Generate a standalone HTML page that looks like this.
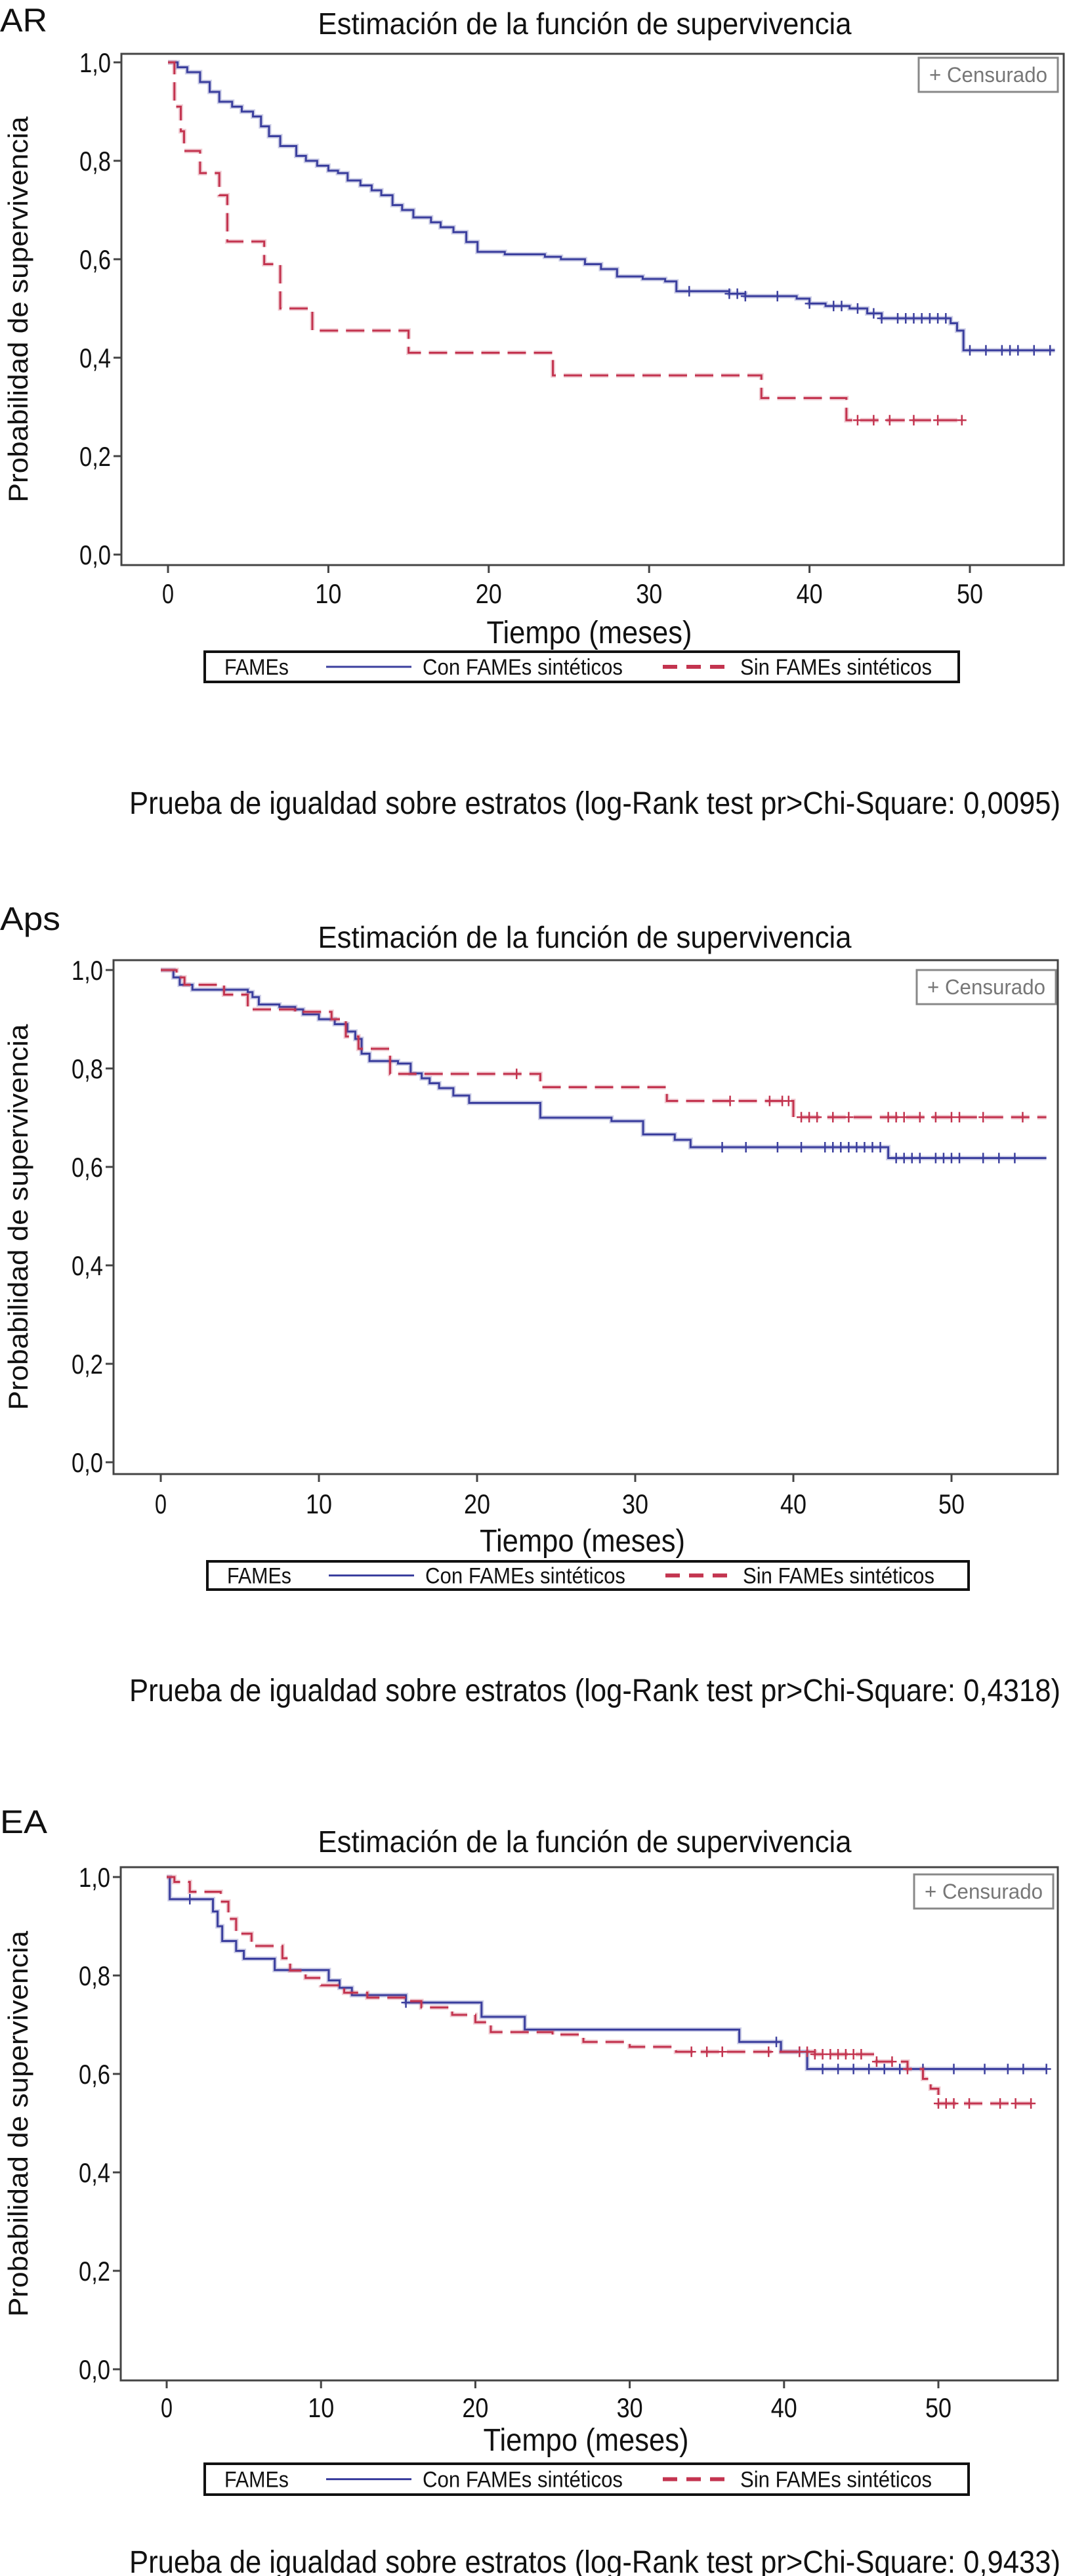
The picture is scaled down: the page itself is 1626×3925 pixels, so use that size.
<!DOCTYPE html>
<html><head><meta charset="utf-8">
<style>
html,body{margin:0;padding:0;background:#fff;}
svg{display:block;font-family:"Liberation Sans",sans-serif;}
</style></head>
<body>
<svg id="fig" width="1626" height="3925" viewBox="0 0 1626 3925" xmlns="http://www.w3.org/2000/svg"></svg>
<script>
// ---------- Chart AR ----------
const arBlueT = [0,0.6,1.2,2,2.6,3.2,4,4.6,5.3,5.8,6.3,7,8,8.6,9.3,10,10.6,11.2,12,12.7,13.3,14,14.6,15.3,16.4,17,17.8,18.6,19.3,21,23.5,24.5,26,27,28,29.6,31,31.7,35,36,39.2,40,41,42.5,43.6,44.5,48.8,49.2,49.6,55.3];
const arBlueS = [1,0.99,0.98,0.96,0.94,0.92,0.91,0.90,0.89,0.87,0.85,0.83,0.81,0.80,0.79,0.78,0.775,0.76,0.75,0.74,0.73,0.71,0.70,0.685,0.675,0.665,0.655,0.635,0.615,0.61,0.605,0.60,0.59,0.58,0.565,0.56,0.555,0.535,0.53,0.525,0.52,0.51,0.505,0.50,0.49,0.48,0.47,0.455,0.415,0.415];
const arBlueC = [32.5,35,35.5,36,38,40,41.5,42,43,44,44.5,45.5,46,46.5,47,47.5,48,48.5,50,51,52,52.5,53,54,55];
const arRedT = [0,0.4,0.8,1,2,3.2,3.7,6,7,9,15,24,37,42.3,49.5];
const arRedS = [1,0.91,0.86,0.82,0.775,0.73,0.636,0.59,0.5,0.455,0.41,0.364,0.318,0.273,0.273];
const arRedC = [43,44,45,46.5,48,49.5];
// ---------- Chart Aps ----------
const apsBlueT = [0,0.8,1.2,2,5.5,5.8,6.2,7.5,8.5,9,10,11,11.8,12.3,12.7,13.2,15,15.8,16.5,17,17.6,18.5,19.5,24,28.5,30.5,32.5,33.5,46,56];
const apsBlueS = [1,0.985,0.97,0.96,0.955,0.945,0.93,0.925,0.92,0.91,0.90,0.89,0.875,0.86,0.83,0.815,0.81,0.79,0.78,0.77,0.76,0.745,0.73,0.70,0.693,0.666,0.655,0.64,0.618,0.618];
const apsBlueC = [35.5,37,39,40.5,42,42.5,43,43.5,44,44.5,45,45.5,46.5,47,47.5,48,49,49.5,50,50.5,52,53,54];
const apsRedT = [0,1,1.5,4,5.5,8.5,10.8,11.7,12.5,14.5,24,32,40,56];
const apsRedS = [1,0.985,0.97,0.95,0.92,0.915,0.90,0.865,0.84,0.789,0.762,0.734,0.701,0.701];
const apsRedC = [22.5,36,38.5,39.3,39.7,40.5,41,41.5,42.5,43.5,46,46.5,47,48,49,50,50.5,52,54.5];
// ---------- Chart EA ----------
const eaBlueT = [0,0.2,3,3.3,3.6,4.5,5,7,10.5,11.2,12,15.5,20.4,23.2,37.1,39.8,41.5,57];
const eaBlueS = [1,0.955,0.93,0.90,0.87,0.85,0.834,0.811,0.79,0.775,0.76,0.745,0.716,0.69,0.665,0.645,0.61,0.61];
const eaBlueC = [1.5,15.5,39.5,41,42.5,43.5,44.5,45.5,46.5,47.5,49,51,53,54.5,55.5,57];
const eaRedT = [0,0.5,1.5,3.5,4,4.5,5.5,7.5,8,9,10,11.5,13,15.5,16.5,18.5,20,21,25,27,30,33,42,46,48,49,49.5,50,56];
const eaRedS = [1,0.99,0.97,0.95,0.915,0.885,0.86,0.835,0.81,0.795,0.78,0.765,0.755,0.748,0.735,0.72,0.705,0.685,0.68,0.665,0.655,0.645,0.64,0.625,0.61,0.59,0.57,0.54,0.54];
const eaRedC = [34,35,36,39,41,41.5,42,42.5,43,43.5,44,44.5,45,46,47,48,50,50.5,51,52,54,55,56];
const yTicks = [0,0.2,0.4,0.6,0.8,1.0];
const yTickLabels = ["0,0","0,2","0,4","0,6","0,8","1,0"];
const xTicks = [0,10,20,30,40,50];
const xTickLabels = ["0","10","20","30","40","50"];

const NS="http://www.w3.org/2000/svg";
const svg=document.getElementById('fig');
function mk(tag,attrs,parent){const e=document.createElementNS(NS,tag);for(const k in attrs)e.setAttribute(k,attrs[k]);(parent||svg).appendChild(e);return e;}
function txt(s,attrs,parent){const e=mk('text',attrs,parent);e.textContent=s;return e;}

function stepPath(T,S,sx,sy){
  let d='M'+sx(T[0])+' '+sy(S[0]);
  for(let i=1;i<T.length;i++){d+=' H'+sx(T[i])+' V'+sy(S[i]);}
  return d;
}
function survAt(T,S,t){let v=S[0];for(let i=0;i<T.length;i++){if(T[i]<=t)v=S[i];}return v;}

function drawChart(c){
  const g=mk('g',{});
  
  
  const sx=t=>c.x0+(c.x50-c.x0)*t/50;
  const sy=s=>c.y0+(c.y1-c.y0)*s;
  const lab=txt(c.label,{x:0,y:c.labelY,'font-size':50,textLength:c.labelW,lengthAdjust:'spacingAndGlyphs',fill:'#111'},g);
  
  
  const tt=txt('Estimación de la función de supervivencia',{x:891,y:c.titleY,'font-size':46,'text-anchor':'middle',textLength:813,lengthAdjust:'spacingAndGlyphs',fill:'#111'},g);
  
  
  const fr=mk('rect',{x:c.l,y:c.t,width:c.r-c.l,height:c.b-c.t,fill:'none',stroke:'#444','stroke-width':3},g);
  
  
  yTicks.forEach((v,i)=>{
    mk('line',{x1:c.l-12,x2:c.l,y1:sy(v),y2:sy(v),stroke:'#444','stroke-width':3},g);
    const t=txt(yTickLabels[i],{x:c.l-16,y:sy(v)+15,'font-size':42,'text-anchor':'end',textLength:48,lengthAdjust:'spacingAndGlyphs',fill:'#111'},g);
    
    
  });
  xTicks.forEach((v,i)=>{
    mk('line',{x1:sx(v),x2:sx(v),y1:c.b,y2:c.b+12,stroke:'#444','stroke-width':3},g);
    const t=txt(xTickLabels[i],{x:sx(v),y:c.xLabY+2,'font-size':42,'text-anchor':'middle',textLength:v===0?18:40,lengthAdjust:'spacingAndGlyphs',fill:'#111'},g);
    
    
  });
  const xt=txt('Tiempo (meses)',{x:(c.l+c.r)/2-5,y:c.xTitleY+2,'font-size':48,'text-anchor':'middle',textLength:313,lengthAdjust:'spacingAndGlyphs',fill:'#111'},g);
  
  
  const yc=(c.t+c.b)/2;
  const yt=txt('Probabilidad de supervivencia',{x:0,y:0,'font-size':42,'text-anchor':'middle',textLength:588,lengthAdjust:'spacingAndGlyphs',fill:'#111',transform:'translate(42,'+yc+') rotate(-90)'},g);
  
  
  const cb=mk('rect',{x:c.cx,y:c.cy,width:212,height:52,fill:'#fff',stroke:'#888','stroke-width':3},g);
  
  
  txt('+ Censurado',{x:c.cx+106,y:c.cy+37,'font-size':32,'text-anchor':'middle',textLength:180,lengthAdjust:'spacingAndGlyphs',fill:'#777'},g);
  const blue='#3b3f9e', red='#c3344f';
  [[c.bT,c.bS,c.bC,blue,null,'series-con-fames'],[c.rT,c.rS,c.rC,red,'28 12','series-sin-fames']].forEach(([T,S,C,col,dash,nm])=>{
    mk('path',{d:stepPath(T,S,sx,sy),fill:'none',stroke:col,'stroke-opacity':0.25,'stroke-width':7,'stroke-dasharray':dash||'none'},g);
    const p=mk('path',{d:stepPath(T,S,sx,sy),fill:'none',stroke:col,'stroke-width':3,'stroke-dasharray':dash||'none'},g);
    
    
    C.forEach(t=>{
      const X=sx(t),Y=sy(survAt(T,S,t));
      const m=mk('path',{d:'M'+(X-7)+' '+Y+' H'+(X+7)+' M'+X+' '+(Y-8)+' V'+(Y+8),stroke:col,'stroke-width':2.5},g);
      
      
    });
  });
  const L=c.legL, T0=c.legT, W=c.legW, H=c.legH;
  const lg=mk('g',{},g);
  
  
  mk('rect',{x:L,y:T0,width:W,height:H,fill:'#fff',stroke:'#111','stroke-width':4},lg);
  const my=T0+H/2;
  txt('FAMEs',{x:L+30,y:my+12,'font-size':34,textLength:98,lengthAdjust:'spacingAndGlyphs',fill:'#111'},lg);
  mk('line',{x1:L+185,x2:L+315,y1:my,y2:my,stroke:blue,'stroke-width':3},lg);
  txt('Con FAMEs sintéticos',{x:L+332,y:my+12,'font-size':34,textLength:305,lengthAdjust:'spacingAndGlyphs',fill:'#111'},lg);
  mk('line',{x1:L+698,x2:L+802,y1:my,y2:my,stroke:red,'stroke-width':6,'stroke-dasharray':'22 14'},lg);
  txt('Sin FAMEs sintéticos',{x:L+816,y:my+12,'font-size':34,textLength:292,lengthAdjust:'spacingAndGlyphs',fill:'#111'},lg);
  const fn=txt('Prueba de igualdad sobre estratos (log-Rank test pr>Chi-Square: '+c.p+')',{x:197,y:c.footY+2,'font-size':48,textLength:1419,lengthAdjust:'spacingAndGlyphs',fill:'#111'},g);
  
  
}

drawChart({name:'ar',label:'AR',labelW:72,labelY:48,titleY:52,l:185,t:82,r:1621,b:861,x0:256,x50:1478,y0:845,y1:95,xLabY:917,xTitleY:978,cx:1400,cy:88,
  legL:312,legT:993,legW:1149,legH:46,footY:1238,p:'0,0095',
  bT:arBlueT,bS:arBlueS,bC:arBlueC,rT:arRedT,rS:arRedS,rC:arRedC});
drawChart({name:'aps',label:'Aps',labelW:92,labelY:1417,titleY:1444,l:173,t:1463,r:1612,b:2246,x0:245,x50:1450,y0:2228,y1:1478,xLabY:2304,xTitleY:2362,cx:1397,cy:1478,
  legL:316,legT:2379,legW:1160,legH:43,footY:2590,p:'0,4318',
  bT:apsBlueT,bS:apsBlueS,bC:apsBlueC,rT:apsRedT,rS:apsRedS,rC:apsRedC});
drawChart({name:'ea',label:'EA',labelW:72,labelY:2793,titleY:2822,l:184,t:2845,r:1612,b:3627,x0:254,x50:1430,y0:3610,y1:2860,xLabY:3681,xTitleY:3732,cx:1393,cy:2856,
  legL:312,legT:3754,legW:1164,legH:47,footY:3918,p:'0,9433',
  bT:eaBlueT,bS:eaBlueS,bC:eaBlueC,rT:eaRedT,rS:eaRedS,rC:eaRedC});
</script>
</body></html>
